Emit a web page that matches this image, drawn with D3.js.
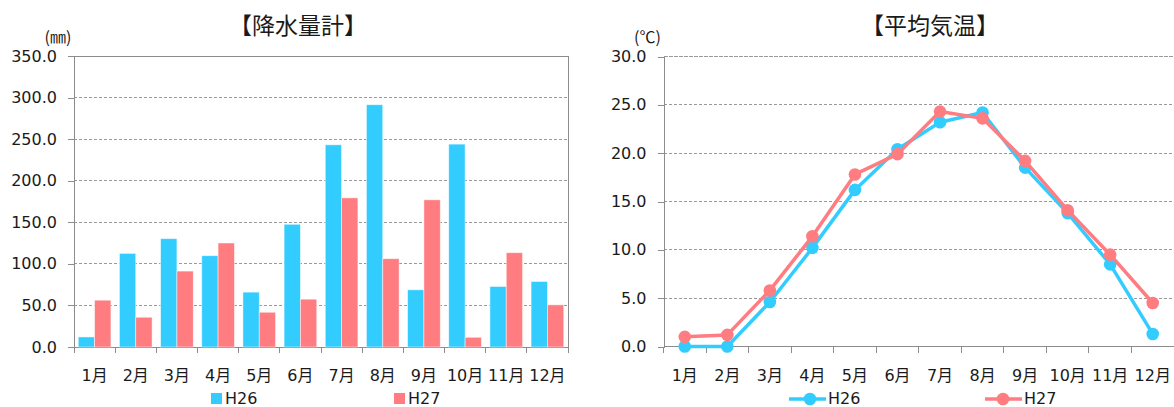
<!DOCTYPE html>
<html><head><meta charset="utf-8">
<script src="https://cdn.jsdelivr.net/npm/d3@7"></script>
<style>
body{margin:0;background:#fff;}
text{font-family:"DejaVu Sans","Noto Sans CJK JP",sans-serif;fill:#1a1a1a;}
.cjk{font-family:"Noto Sans CJK JP",sans-serif;}
</style></head>
<body><svg id="c" width="1174" height="407"></svg>
<script>
const months = ["1月","2月","3月","4月","5月","6月","7月","8月","9月","10月","11月","12月"];
const seriesNames = ["H26","H27"];
const rainH26 = [12.1,112.6,130.3,109.8,66.0,147.6,243.2,291.4,68.8,244.0,72.8,78.8];
const rainH27 = [56.3,35.8,91.3,125.1,41.8,57.5,179.4,106.2,177.0,11.7,113.4,50.7];
const tempH26 = [0.0,0.0,4.6,10.2,16.2,20.4,23.2,24.2,18.5,13.8,8.5,1.3];
const tempH27 = [1.0,1.2,5.8,11.4,17.8,19.9,24.3,23.6,19.2,14.1,9.5,4.5];
const rainTicks = [0,50,100,150,200,250,300,350];
const tempTicks = [0,5,10,15,20,25,30];
const titles = ["【降水量計】","【平均気温】"];
const units = ["(㎜)","(℃)"];
const colors = ["#33CCFF","#FF7C80"];

const svg = d3.select("#c");
const gridColor = "#9a9a9a", axisColor = "#8c8c8c";

function frame(x0, x1, y0, y1, yMax, ticks, unit, title, titleX, drawRight){
  const x = d3.scaleBand().domain(months).range([x0, x1]);
  const y = d3.scaleLinear().domain([0, yMax]).range([y1, y0]);
  const g = svg.append("g");
  g.selectAll("line.grid").data(ticks.filter(t => t > 0 && t < yMax)).enter().append("line")
    .attr("x1", x0).attr("x2", x1).attr("y1", d => y(d)).attr("y2", d => y(d))
    .attr("stroke", gridColor).attr("stroke-dasharray", "3,2").attr("shape-rendering","crispEdges");
  g.append("line").attr("x1", x0).attr("x2", x1).attr("y1", y(yMax)).attr("y2", y(yMax))
    .attr("stroke", drawRight ? axisColor : gridColor).attr("stroke-dasharray", drawRight ? null : "4,1").attr("shape-rendering","crispEdges");
  if (drawRight) {
    g.append("line").attr("x1", x1).attr("x2", x1).attr("y1", y(yMax)).attr("y2", y(0))
      .attr("stroke", axisColor).attr("shape-rendering","crispEdges");
  }
  const ya = d3.axisLeft(y).tickValues(ticks).tickSize(6).tickPadding(11).tickFormat(d3.format(".1f"));
  const yg = g.append("g").attr("transform", `translate(${x0},0)`).call(ya);
  yg.select(".domain").attr("stroke", axisColor).attr("shape-rendering","crispEdges");
  yg.selectAll(".tick line").attr("stroke", axisColor).attr("shape-rendering","crispEdges");
  yg.selectAll(".tick text").attr("font-size", 16).attr("fill", "#1a1a1a")
    .style("font-family", '"DejaVu Sans",sans-serif');
  const xa = d3.axisBottom(x).tickSize(0).tickPadding(0);
  const xg = g.append("g").attr("transform", `translate(0,${y(0)})`).call(xa);
  xg.select(".domain").remove();
  xg.append("line").attr("x1", x0).attr("x2", x1).attr("y1", 0).attr("y2", 0)
    .attr("stroke", axisColor).attr("shape-rendering","crispEdges");
  const bounds = months.map(m => x(m)).concat([x1]);
  xg.selectAll("line.bt").data(bounds).enter().append("line")
    .attr("x1", d => d).attr("x2", d => d).attr("y1", 0).attr("y2", 6)
    .attr("stroke", axisColor).attr("shape-rendering","crispEdges");
  xg.selectAll(".tick text").attr("font-size", 16).attr("dy", 0).attr("y", 34).attr("fill", "#1a1a1a");
  svg.append("text").attr("class","cjk").attr("x", titleX).attr("y", 34).attr("text-anchor","middle")
    .attr("font-size", 23).text(title);
  svg.append("text").attr("class","cjk").attr("x", x0 - 16).attr("y", 43).attr("text-anchor","middle")
    .attr("font-size", 16).text(unit);
  return {x, y, g};
}

// ---- Left: rainfall bars
const L = frame(74, 568, 56, 347, 350, rainTicks, units[0], titles[0], 298, true);
const inner = d3.scaleBand().domain(seriesNames).range([0, L.x.bandwidth()]).paddingOuter(0.26).paddingInner(0);
const rainData = [rainH26, rainH27];
seriesNames.forEach((s, si) => {
  L.g.append("g").selectAll("rect").data(months).enter().append("rect")
    .attr("x", m => L.x(m) + inner(s))
    .attr("width", inner.bandwidth())
    .attr("y", (m, i) => L.y(rainData[si][i]))
    .attr("height", (m, i) => L.y(0) - L.y(rainData[si][i]))
    .attr("fill", colors[si]).attr("stroke", "#ffffff").attr("stroke-opacity", 0.6).attr("stroke-width", 0.8);
});
const legL = [[211, 225], [394, 408]];
seriesNames.forEach((s, si) => {
  svg.append("rect").attr("x", legL[si][0]).attr("y", 393).attr("width", 11).attr("height", 11).attr("fill", colors[si]);
  svg.append("text").attr("x", legL[si][1]).attr("y", 404).attr("font-size", 16).text(s);
});

// ---- Right: temperature lines
const R = frame(663.5, 1174, 56.5, 346.5, 30, tempTicks, units[1], titles[1], 930, false);
const tempData = [tempH26, tempH27];
seriesNames.forEach((s, si) => {
  const line = d3.line().x((d, i) => R.x(months[i]) + R.x.bandwidth() / 2).y(d => R.y(d));
  R.g.append("path").datum(tempData[si]).attr("d", line).attr("fill", "none")
    .attr("stroke", colors[si]).attr("stroke-width", 3.5).attr("stroke-linejoin", "round");
  R.g.append("g").selectAll("circle").data(tempData[si]).enter().append("circle")
    .attr("cx", (d, i) => R.x(months[i]) + R.x.bandwidth() / 2).attr("cy", d => R.y(d))
    .attr("r", 6.3).attr("fill", colors[si]);
});
const legR = [[789, 826, 810, 828], [985, 1022, 1003, 1024]];
seriesNames.forEach((s, si) => {
  const p = legR[si];
  svg.append("line").attr("x1", p[0]).attr("x2", p[1]).attr("y1", 399).attr("y2", 399)
    .attr("stroke", colors[si]).attr("stroke-width", 3.5);
  svg.append("circle").attr("cx", p[2]).attr("cy", 399).attr("r", 6.3).attr("fill", colors[si]);
  svg.append("text").attr("x", p[3]).attr("y", 404).attr("font-size", 16).text(s);
});
</script></body></html>
